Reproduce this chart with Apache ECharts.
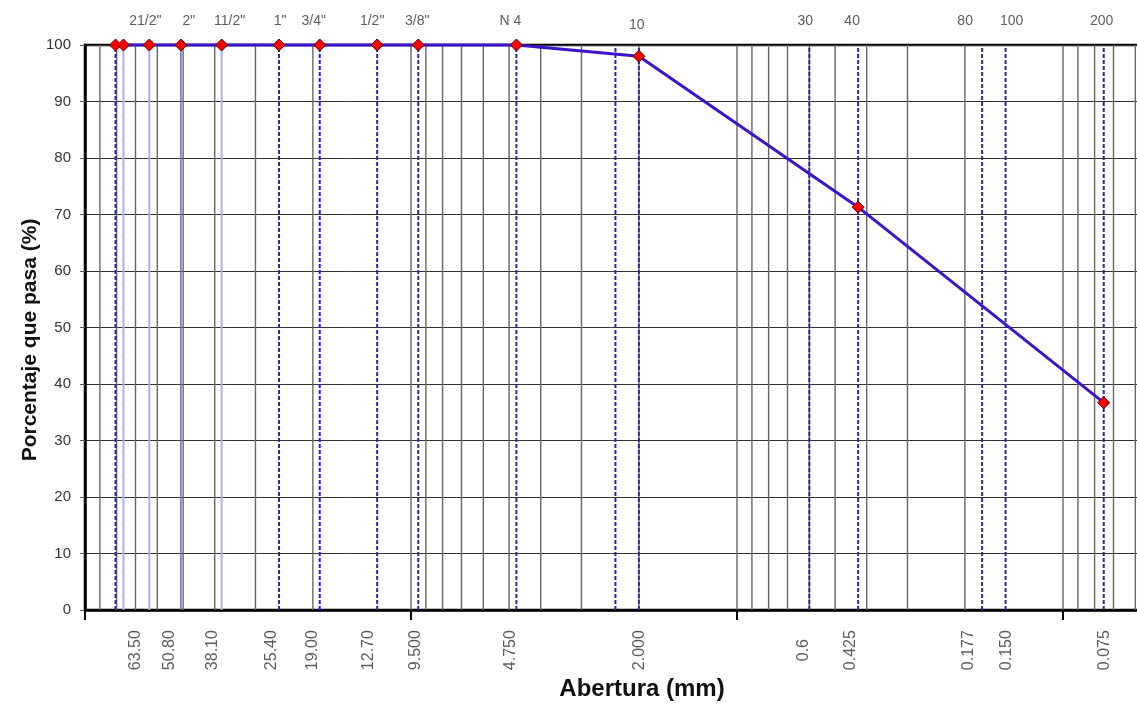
<!DOCTYPE html>
<html>
<head>
<meta charset="utf-8">
<script src="https://cdn.jsdelivr.net/npm/echarts@6/dist/echarts.min.js"></script>
<style>
html,body{margin:0;padding:0;background:#fff;}
#chart{width:1137px;height:711px;}
</style>
</head>
<body>
<div id="chart"></div>
<script>
// ---------------- DATA ----------------
const sieveSizes = [80.6, 76.2, 63.5, 50.8, 38.1, 25.4, 19.05, 12.7, 9.5, 4.75, 2.0, 0.425, 0.075];
const percentPassing = [100, 100, 100, 100, 100, 100, 100, 100, 100, 100, 98, 71.3, 36.7];

const sieveLineSizes = [80.6, 76.2, 63.5, 50.8, 38.1, 25.4, 19.05, 12.7, 9.5, 4.75, 2.36, 2.0, 0.6, 0.425, 0.177, 0.15, 0.075];
const sieveLineKinds = ['dash','light','light','dark','light','dash','bright','dash','dash','dash','dash','dash','dash','dash','dash','dash','dash'];

const topLabels = ['21/2"', '2"', '11/2"', '1"', '3/4"', '1/2"', '3/8"', 'N 4', '10', '30', '40', '80', '100', '200'];
const topLabelSizes = [63.5, 50.8, 38.1, 25.4, 19.05, 12.7, 9.5, 4.75, 2.0, 0.6, 0.425, 0.177, 0.15, 0.075];

const bottomLabels = ['63.50', '50.80', '38.10', '25.40', '19.00', '12.70', '9.500', '4.750', '2.000', '0.6', '0.425', '0.177', '0.150', '0.075'];
const bottomLabelSizes = [63.5, 50.8, 38.1, 25.4, 19.05, 12.7, 9.5, 4.75, 2.0, 0.6, 0.425, 0.177, 0.15, 0.075];

const xTitle = 'Abertura (mm)';
const yTitle = 'Porcentaje que pasa (%)';

// ---------------- LAYOUT / STYLE ----------------
const TOP_LABEL_Y = 104.25;
const BOTTOM_LABEL_Y = -7.1;
const topLabelOffsets = [[-4,0],[8,0],[8,0],[1,0],[-6,0],[-5,0],[-1,0],[-6,0],[-2,4],[-4,0],[-6,0],[-17,0],[6,0],[-2,0]];
// horizontal screen shift for rotated labels (applied in rotated frame as [0, dx])
const bottomLabelOffsets = [-14,-11,-9,-7,-7,-9,-3,-6,1,-6,-8,-14,1,1];

const lineKindStyle = {
  dash:   {stroke: '#2a2a9c', lineWidth: 2, lineDash: [4, 2]},
  bright: {stroke: '#1a1aff', lineWidth: 2, lineDash: [4, 2]},
  light:  {stroke: '#aeb0e4', lineWidth: 2, lineDash: null},
  dark:   {stroke: '#6c6ca8', lineWidth: 1.5, lineDash: null}
};

// log minor gridlines (1..9 x 10^e)
const minorGrid = [];
[1, 0, -1, -2].forEach(e => { for (let k = 1; k <= 9; k++) minorGrid.push(+(k * Math.pow(10, e)).toPrecision(6)); });

const FONT = '"Liberation Sans", Arial, sans-serif';

function vline(styleFn) {
  return function (params, api) {
    const x = api.value(0);
    const p0 = api.coord([x, 0]);
    const p1 = api.coord([x, 100]);
    const st = styleFn(params.dataIndex);
    return {
      type: 'line',
      shape: {x1: p0[0], y1: p0[1], x2: p1[0], y2: p1[1]},
      style: {stroke: st.stroke, lineWidth: st.lineWidth, lineDash: st.lineDash}
    };
  };
}

const chart = echarts.init(document.getElementById('chart'), null, {renderer: 'canvas'});
chart.setOption({
  animation: false,
  backgroundColor: '#ffffff',
  grid: {left: 85, top: 45, width: 1304, height: 565, outerBoundsMode: 'none', containLabel: false,
         show: true, borderColor: '#000', borderWidth: 2.5, backgroundColor: 'transparent'},
  xAxis: {
    type: 'log', logBase: 10, min: 0.01, max: 100, inverse: true,
    axisLine: {show: true, onZero: false, lineStyle: {color: '#000', width: 2.5}},
    axisTick: {show: true, length: 10, lineStyle: {color: '#000', width: 2}},
    axisLabel: {show: false},
    splitLine: {show: false}
  },
  yAxis: {
    type: 'value', min: 0, max: 100, interval: 10,
    axisLine: {show: true, lineStyle: {color: '#000', width: 2.5}},
    axisTick: {show: true, length: 5, lineStyle: {color: '#555', width: 1}},
    axisLabel: {color: '#333', fontSize: 15, fontFamily: FONT, margin: 14},
    splitLine: {show: true, lineStyle: {color: '#333', width: 1}}
  },
  graphic: [
    {type: 'text', x: 642, y: 689, style: {text: xTitle, font: 'bold 24px ' + FONT, fill: '#111', textAlign: 'center', textVerticalAlign: 'middle'}},
    {type: 'text', x: 30, y: 340, rotation: Math.PI / 2, style: {text: yTitle, font: 'bold 21px ' + FONT, fill: '#111', textAlign: 'center', textVerticalAlign: 'middle'}}
  ],
  series: [
    {
      type: 'custom', name: 'minor', z: 1, silent: true,
      data: minorGrid.map(v => [v, 0]),
      renderItem: vline(() => ({stroke: '#666', lineWidth: 1.4, lineDash: null}))
    },
    {
      type: 'custom', name: 'sieves', z: 2, silent: true,
      data: sieveLineSizes.map(v => [v, 0]),
      renderItem: vline(i => lineKindStyle[sieveLineKinds[i]])
    },
    {
      type: 'line', name: 'curve', z: 5, clip: false,
      data: sieveSizes.map((s, i) => [s, percentPassing[i]]),
      lineStyle: {color: '#3c14cc', width: 3},
      symbol: 'diamond', symbolSize: 12,
      itemStyle: {color: '#ff0000', borderColor: '#5a0000', borderWidth: 1},
      showAllSymbol: true
    },
    {
      type: 'scatter', name: 'topLabels', z: 6, clip: false, silent: true,
      symbolSize: 1, itemStyle: {color: 'rgba(0,0,0,0)'},
      data: topLabelSizes.map((s, i) => ({
        value: [s, TOP_LABEL_Y],
        label: {show: true, position: 'inside', formatter: topLabels[i], offset: topLabelOffsets[i],
                color: '#333', fontSize: 14, fontFamily: FONT, align: 'center', verticalAlign: 'middle'}
      }))
    },
    {
      type: 'scatter', name: 'bottomLabels', z: 6, clip: false, silent: true,
      symbolSize: 1, itemStyle: {color: 'rgba(0,0,0,0)'},
      data: bottomLabelSizes.map((s, i) => ({
        value: [s, BOTTOM_LABEL_Y],
        label: {show: true, position: 'inside', formatter: bottomLabels[i], rotate: 90, offset: [0, bottomLabelOffsets[i]],
                color: '#333', fontSize: 16, fontFamily: FONT, align: 'center', verticalAlign: 'middle'}
      }))
    }
  ]
});
</script>
</body>
</html>
